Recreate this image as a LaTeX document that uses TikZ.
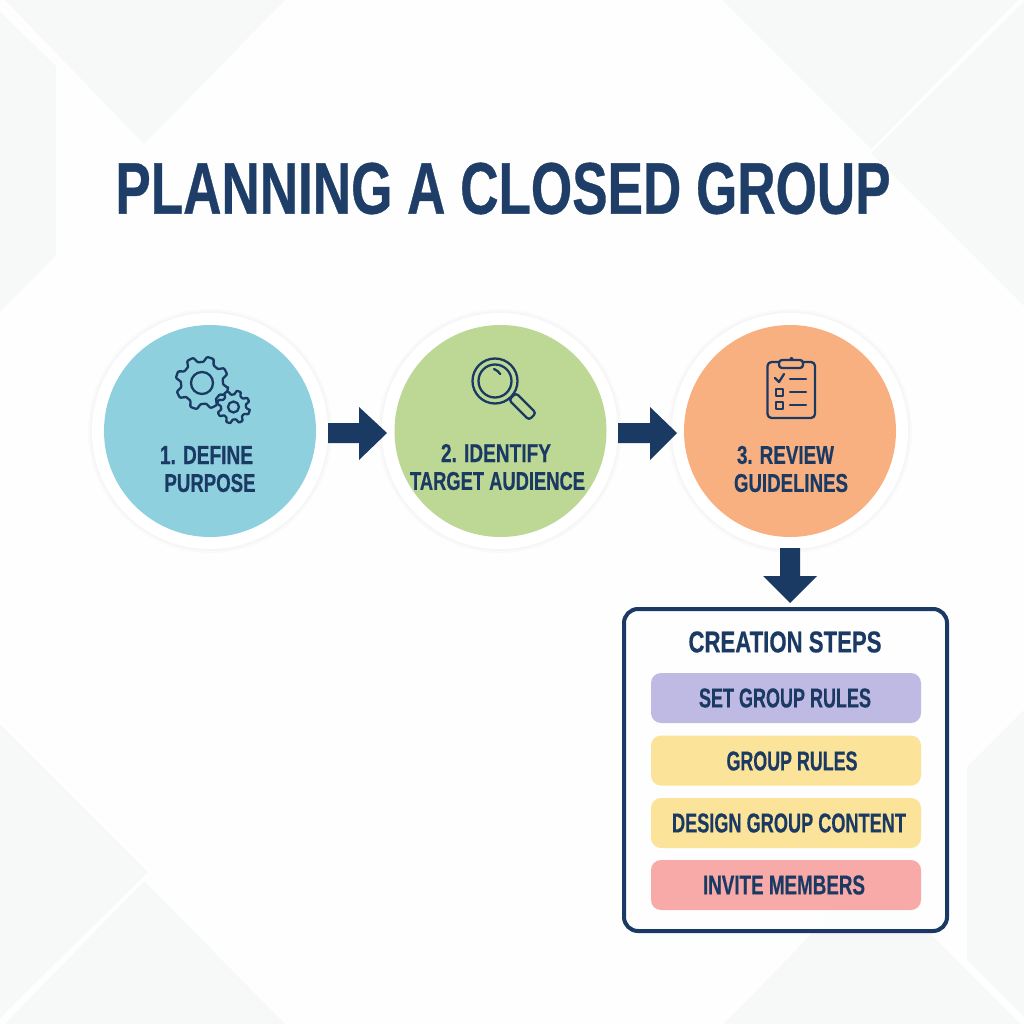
\documentclass[tikz,border=0pt]{standalone}
\usepackage{fontspec}
\usepackage{graphicx}
\setmainfont{Liberation Sans}[BoldFeatures={FakeBold=0.6}]
\definecolor{navy}{HTML}{1B3A63}
\definecolor{titlenavy}{HTML}{1E3E68}
\definecolor{bgbase}{HTML}{FEFEFE}
\definecolor{bgshade}{HTML}{F7F8F8}
\definecolor{teal}{HTML}{8FD0DE}
\definecolor{leaf}{HTML}{BDD795}
\definecolor{peach}{HTML}{F9B080}
\definecolor{lilac}{HTML}{BFBAE3}
\definecolor{butter}{HTML}{FBE49A}
\definecolor{rose}{HTML}{F7AAA8}
\newcommand{\fitlabel}[3]{\resizebox{#1pt}{#2pt}{\bfseries #3}}
\tikzset{
  x=1pt,y=-1pt,
  disc/.style={circle,minimum size=212pt,inner sep=0pt,draw=none},
  ringshade/.style={circle,fill=black,opacity=0.015,minimum size=#1,inner sep=0pt,draw=none},
  ring/.style={circle,fill=white,minimum size=236pt,inner sep=0pt,draw=none},
  label/.style={inner sep=0pt,text=navy,anchor=center},
  pill/.style={rectangle,rounded corners=10pt,minimum width=270pt,minimum height=50pt,inner sep=0pt,draw=none},
  panel/.style={rectangle,rounded corners=14pt,draw=navy,line width=4pt,fill=white,fill opacity=0.75,minimum width=323pt,minimum height=322pt,inner sep=0pt},
  icon/.style={draw=navy,line width=2.3pt,line cap=round,line join=round},
  blockarrow/.style={fill=navy,draw=none},
  bgshape/.style={fill=bgshade,draw=none}
}
\begin{document}
\begin{tikzpicture}
\useasboundingbox (0,0) rectangle (1024,1024);
\fill[bgbase] (0,0) rectangle (1024,1024);
% background facets
\fill[bgshape] (5,0) -- (285,0) -- (144,144) -- cycle;
\fill[bgshape] (0,12) -- (56,66) -- (56,255) -- (0,312) -- cycle;
\fill[bgshape] (722,0) -- (1018,0) -- (871,149) -- cycle;
\fill[bgshape] (1024,2) -- (871,153) -- (1024,306) -- cycle;
\fill[bgshape] (0,724) -- (148,872) -- (0,1018) -- cycle;
\fill[bgshape] (144,881) -- (285,1024) -- (5,1024) -- cycle;
\fill[bgshape] (1024,710) -- (967,767) -- (967,960) -- (1024,1017) -- cycle;
\fill[bgshape] (724,1024) -- (870,874) -- (1021,1024) -- cycle;

% rings with soft shadow
\foreach \cx/\nm in {210/a,500/b,790/c}{
  \node[ringshade=244pt] (s1\nm) at (\cx,431) {};
  \node[ringshade=240pt] (s2\nm) at (\cx,431) {};
  \node[ring] (r\nm) at (\cx,431) {};
}
\node[disc,fill=teal] (d1) at (210,431) {};
\node[disc,fill=leaf] (d2) at (500.5,431) {};
\node[disc,fill=peach] (d3) at (790,431) {};

% connectors
\fill[blockarrow] (328,423) -- (359,423) -- (359,407) -- (387,433) -- (359,460) -- (359,443) -- (328,443) -- cycle;
\fill[blockarrow] (618,423) -- (650,423) -- (650,407) -- (677,433) -- (650,460) -- (650,443) -- (618,443) -- cycle;
\fill[blockarrow] (780,548) -- (800,548) -- (800,576) -- (817,576) -- (790,603) -- (763,576) -- (780,576) -- cycle;

% gear icon
\draw[icon,rounded corners=0.8pt]
  plot[samples at={0,...,48},variable=\t] ({202+(mod(\t,6)<3?26.5:21)*cos(\t*7.5+11)},{383+(mod(\t,6)<3?26.5:21)*sin(\t*7.5+11)}) -- cycle;
\draw[icon] (202,383) circle[radius=11];
\draw[icon,fill=teal,rounded corners=0.6pt]
  plot[samples at={0,...,48},variable=\t] ({233.5+(mod(\t,6)<3?16.5:12.5)*cos(\t*7.5+11)},{407+(mod(\t,6)<3?16.5:12.5)*sin(\t*7.5+11)}) -- cycle;
\draw[icon] (233.5,407) circle[radius=5.5];

% magnifier icon
\draw[icon] (495,381) circle[radius=22.5];
\draw[icon] (495,381) circle[radius=16.5];
\draw[icon] (494,369) arc[start angle=-68,end angle=-35,radius=14];
\draw[icon,rounded corners=3pt] (516,393) -- (536,413) -- (529,420) -- (509,400) -- cycle;

% clipboard icon
\draw[icon,rounded corners=4pt] (767.5,362) rectangle (815,418);
\draw[icon,fill=peach] (785.5,360) arc[start angle=180,end angle=0,radius=6];
\draw[icon,fill=peach,rounded corners=3pt] (779,368) rectangle (803,360);
\fill[navy] (791.5,359) circle[radius=2];
\draw[icon] (775,378) -- (779,382) -- (784,374);
\draw[icon] (790,379) -- (806,379);
\draw[icon] (776,389) rectangle (783,396);
\draw[icon] (790,392) -- (806,392);
\draw[icon] (776,402) rectangle (783,409);
\draw[icon] (790,405) -- (806,405);

% circle labels
\node[label] (t1a) at (206.5,455) {\fitlabel{93}{18}{1. DEFINE}};
\node[label] (t1b) at (210,483) {\fitlabel{91}{18}{PURPOSE}};
\node[label] (t2a) at (496,453) {\fitlabel{110}{18}{2. IDENTIFY}};
\node[label] (t2b) at (497.5,481) {\fitlabel{175}{18}{TARGET AUDIENCE}};
\node[label] (t3a) at (785.5,455) {\fitlabel{97}{18}{3. REVIEW}};
\node[label] (t3b) at (791,483) {\fitlabel{114}{18}{GUIDELINES}};

% panel
\node[panel] (panel) at (785.5,770) {};
\node[label] (ptitle) at (785,642) {\fitlabel{193}{21}{CREATION STEPS}};
\node[pill,fill=lilac] (p1) at (786,698) {};
\node[pill,fill=butter] (p2) at (786,760.5) {};
\node[pill,fill=butter] (p3) at (786,823) {};
\node[pill,fill=rose] (p4) at (786,885) {};
\node[label] (l1) at (785,698) {\fitlabel{172}{19}{SET GROUP RULES}};
\node[label] (l2) at (792,761) {\fitlabel{131}{19}{GROUP RULES}};
\node[label] (l3) at (789,823) {\fitlabel{234}{19}{DESIGN GROUP CONTENT}};
\node[label] (l4) at (784,885) {\fitlabel{162}{19}{INVITE MEMBERS}};

% title
\node[label,text=titlenavy] (title) at (503,188.5) {\fitlabel{775}{51}{PLANNING A CLOSED GROUP}};
\end{tikzpicture}
\end{document}
